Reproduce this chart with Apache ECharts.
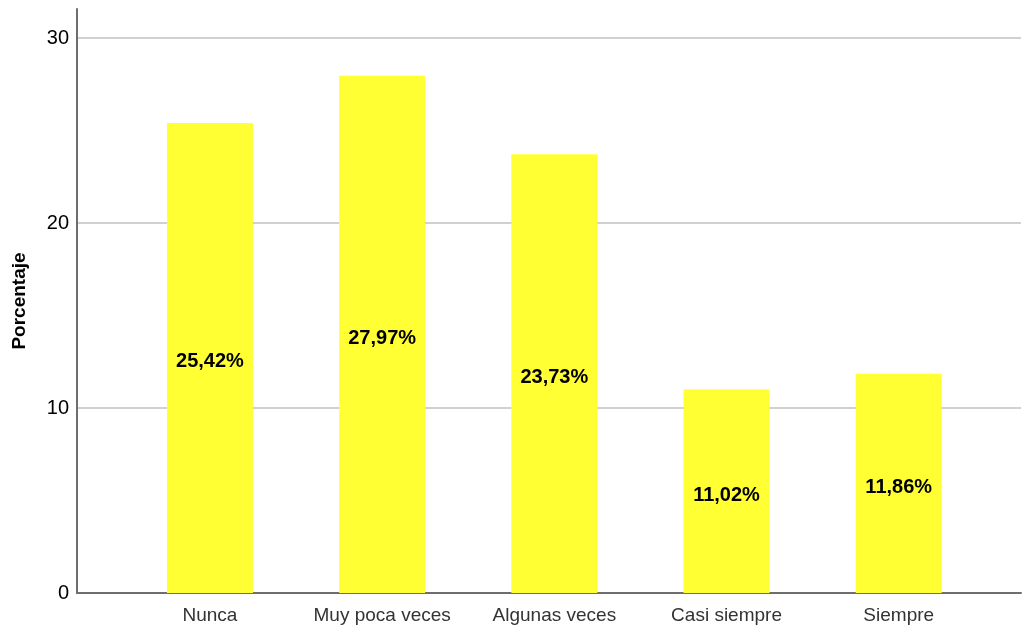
<!DOCTYPE html>
<html>
<head>
<meta charset="utf-8">
<script src="https://cdn.jsdelivr.net/npm/echarts@6/dist/echarts.min.js"></script>
<style>
  html, body { margin: 0; padding: 0; background: #fff; }
  #chart { width: 1023px; height: 631px; }
</style>
</head>
<body>
<div id="chart"></div>
<script>
// datos del grafico
const categorias = ['Nunca', 'Muy poca veces', 'Algunas veces', 'Casi siempre', 'Siempre'];
const porcentajes = [25.42, 27.97, 23.73, 11.02, 11.86];
const ticksY = [0, 10, 20, 30];

const chart = echarts.init(document.getElementById('chart'));

const option = {
  backgroundColor: '#fff',
  animation: false,
  grid: { left: 77, right: 2, top: 9, bottom: 38 },
  xAxis: {
    type: 'value',
    min: -0.772,
    max: 4.71,
    axisLine: { show: true, onZero: false, lineStyle: { color: '#6e6e6e', width: 2 } },
    axisTick: { show: false, customValues: [0, 1, 2, 3, 4] },
    splitLine: { show: false },
    axisLabel: {
      customValues: [0, 1, 2, 3, 4],
      margin: 13,
      color: '#333',
      fontSize: 19,
      fontFamily: 'Liberation Sans, Arial, sans-serif',
      formatter: function (v) { return categorias[Math.round(v)]; }
    }
  },
  yAxis: {
    type: 'value',
    min: 0,
    max: 31.58,
    name: 'Porcentaje',
    nameLocation: 'middle',
    nameGap: 48,
    nameTextStyle: {
      fontSize: 19,
      fontWeight: 'bold',
      color: '#000',
      fontFamily: 'Liberation Sans, Arial, sans-serif'
    },
    axisLine: { show: true, onZero: false, lineStyle: { color: '#6e6e6e', width: 2 } },
    axisTick: { show: false, customValues: ticksY },
    splitLine: { show: true, lineStyle: { color: '#d0d0d0', width: 2 } },
    axisLabel: {
      customValues: ticksY,
      margin: 8,
      padding: [6, 0, 0, 0],
      color: '#000',
      fontSize: 20,
      fontFamily: 'Liberation Sans, Arial, sans-serif'
    }
  },
  series: [
    {
      type: 'bar',
      barWidth: 86,
      itemStyle: { color: '#ffff33' },
      label: {
        show: true,
        position: 'inside',
        offset: [0, 4],
        color: '#000',
        fontSize: 20,
        fontWeight: 'bold',
        fontFamily: 'Liberation Sans, Arial, sans-serif',
        formatter: function (p) {
          return p.value[1].toFixed(2).replace('.', ',') + '%';
        }
      },
      data: porcentajes.map(function (v, i) { return [i, v]; })
    }
  ]
};

chart.setOption(option);
</script>
</body>
</html>
